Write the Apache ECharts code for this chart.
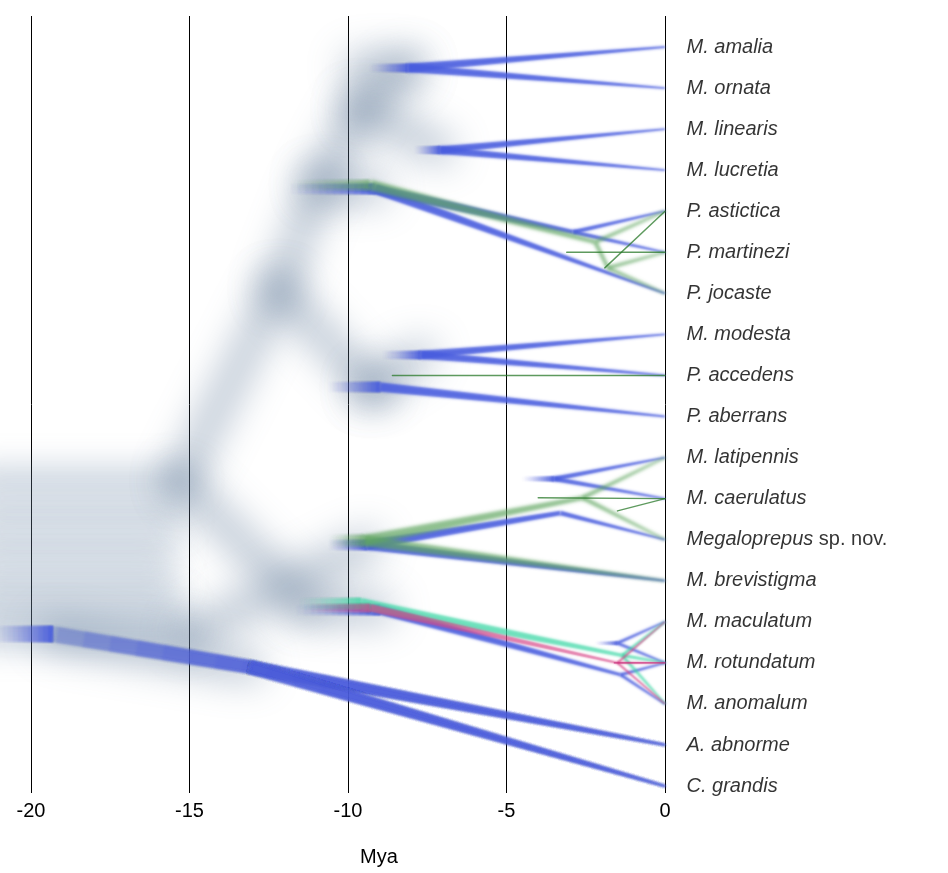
<!DOCTYPE html>
<html>
<head>
<meta charset="utf-8">
<script src="https://cdn.jsdelivr.net/npm/echarts@6/dist/echarts.min.js"></script>
<style>
html, body { margin: 0; padding: 0; background: #fff; }
#main { width: 948px; height: 873px; }
</style>
</head>
<body>
<div id="main"></div>
<script>
// tips, top to bottom (all tips sit at age 0)
var taxa = ['M. amalia', 'M. ornata', 'M. linearis', 'M. lucretia', 'P. astictica', 'P. martinezi',
    'P. jocaste', 'M. modesta', 'P. accedens', 'P. aberrans', 'M. latipennis', 'M. caerulatus',
    'Megaloprepus sp. nov.', 'M. brevistigma', 'M. maculatum', 'M. rotundatum', 'M. anomalum',
    'A. abnorme', 'C. grandis'];
var ageTicks = [-20, -15, -10, -5, 0];

// consensus tree (blue)  [node, age (Mya), vertical position in tip units]
var blueNodes = [['A', -8.1, 0.51], ['B', -7.1, 2.51], ['D', -9.15, 3.46], ['C', -2.9, 4.51],
    ['E', -7.7, 7.5], ['F', -9.0, 8.28], ['G', -3.5, 10.52], ['I', -9.4, 12.13], ['H', -3.3, 11.35],
    ['K', -9.0, 13.71], ['J', -1.5, 14.52], ['M', -1.4, 15.29], ['R', -19.3, 14.3], ['O', -13.1, 15.1]];
// [parent, child]  child = node name or tip index
var blueEdges = [['A', 0], ['A', 1], ['B', 2], ['B', 3], ['D', 'C'], ['D', 6], ['C', 4], ['C', 5],
    ['E', 7], ['E', 8], ['F', 9], ['G', 10], ['G', 11], ['I', 'H'], ['I', 13], ['H', 12],
    ['K', 'M'], ['J', 14], ['J', 15], ['M', 15], ['M', 16], ['R', 'O'], ['O', 17], ['O', 18]];
// faded stems: [node, age where the stem fades out]
var blueStems = [['A', -9.3], ['B', -7.9], ['D', -11.8], ['E', -8.9], ['F', -10.6], ['G', -4.5],
    ['I', -10.6], ['K', -11.6], ['J', -2.2], ['R', -21.2]];

// alternative topologies
var greenNodes = [['Dg', -9.3, 3.36], ['Cg', -2.2, 4.75], ['Ng', -1.8, 5.38], ['Ig', -9.5, 12.02], ['Gg', -2.6, 10.98]];
var greenEdges = [['Dg', 'Cg'], ['Cg', 4], ['Cg', 'Ng'], ['Ng', 5], ['Ng', 6], ['Ig', 'Gg'], ['Gg', 10], ['Gg', 12], ['Ig', 13]];
var greenStems = [['Dg', -11.8], ['Ig', -10.6]];
var tealNodes = [['Kt', -9.6, 13.55], ['Jt', -1.35, 14.82]];
var tealEdges = [['Kt', 'Jt'], ['Jt', 14], ['Jt', 15], ['Jt', 16]];
var tealStems = [['Kt', -11.5]];
var pinkNodes = [['Kp', -9.3, 13.66], ['Jp', -1.5, 15.0]];
var pinkEdges = [['Kp', 'Jp'], ['Jp', 14], ['Jp', 15], ['Jp', 16]];
var pinkStems = [['Kp', -11.3]];

// single thin lines: [age, position, tip]
var thinGreen = [[-3.1, 5.0, 5], [-1.9, 5.38, 4], [-4.0, 10.98, 11], [-1.5, 11.3, 11], [-8.6, 8.0, 8]];
var thinPink = [[-1.6, 15.0, 15]];

// uncertainty cloud (grey)
var greyNodes = [['gP', -15.3, 10.57], ['gQ', -12.2, 5.9], ['gS', -10.9, 3.35], ['gT', -9.6, 1.5],
    ['gF', -9.3, 8.28], ['gK', -11.3, 13.64], ['gL', -15.0, 14.3], ['gA', -9.7, 0.51]];
var greyEdges = [['gP', 'gQ'], ['gQ', 'gS'], ['gS', 'gT'], ['gT', 'A'], ['gA', 'A'], ['gT', 'B'], ['gS', 'D'],
    ['gQ', 'gF'], ['gF', 'E'], ['gF', 'F'], ['gP', 'gK'], ['gK', 'K'], ['gL', 'I'], ['R', 'O']];
var rootRows = [10.57, 11.4, 12.2, 13.0, 13.7, 14.3];
var rootRowEnds = [-15.3, -15.6, -15.8, -15.8, -15.6, -15.0];
var rootStart = -21.5;

var FONT = '"Liberation Sans", Arial, sans-serif';
var OFF = 3000;
var STEPS = 12;
var SLATE = [125, 145, 180];

var nodeMap = {};
[blueNodes, greenNodes, tealNodes, pinkNodes, greyNodes].forEach(function (list) {
    list.forEach(function (n) { nodeMap[n[0]] = [n[1], n[2]]; });
});
function pos(ref) {
    return typeof ref === 'number' ? [0, ref] : nodeMap[ref];
}
function edgeSegs(edges) {
    return edges.map(function (e) {
        var a = pos(e[0]), b = pos(e[1]);
        return [a[0], a[1], b[0], b[1]];
    });
}
function stemSegs(stems) {
    return stems.map(function (s) {
        var b = pos(s[0]);
        return [s[1], b[1], b[0], b[1]];
    });
}
var greySegs = edgeSegs(greyEdges);
var rootSegs = rootRows.map(function (y, i) { return [rootStart, y, rootRowEnds[i], y]; });
var thinGreenSegs = thinGreen.map(function (d) { return [d[0], d[1], 0, d[2]]; });
var thinPinkSegs = thinPink.map(function (d) { return [d[0], d[1], 0, d[2]]; });

function widthAt(t) { return Math.min(16, 1.8 + 0.85 * (-t)); }
function rgba(c, a) { return 'rgba(' + c.join(',') + ',' + a.toFixed(3) + ')'; }
function taper(p0, p1, w0, w1) {
    var dx = p1[0] - p0[0], dy = p1[1] - p0[1];
    var len = Math.sqrt(dx * dx + dy * dy) || 1;
    var nx = -dy / len, ny = dx / len;
    return [[p0[0] + nx * w0 / 2 + OFF, p0[1] + ny * w0 / 2], [p1[0] + nx * w1 / 2 + OFF, p1[1] + ny * w1 / 2],
        [p1[0] - nx * w1 / 2 + OFF, p1[1] - ny * w1 / 2], [p0[0] - nx * w0 / 2 + OFF, p0[1] - ny * w0 / 2]];
}

// tapered branch, older end wider. The polygon sits off canvas and only its
// (translucent, slightly soft) shadow is seen. Colour changes along a branch are
// built by stacking copies that all end at the young end.
function bandLayer(segs, col, alpha, scale, blur, z, stem) {
    return {
        type: 'custom', z: z, silent: true, clip: false, data: segs,
        renderItem: function (params, api) {
            var s = segs[params.dataIndex];
            var t0 = s[0], t1 = s[2];
            var p0 = api.coord([t0, s[1]]), p1 = api.coord([t1, s[3]]);
            var kids = [];
            var beta = 1 - Math.pow(1 - alpha, 1 / STEPS);
            function piece(u, c, op) {
                var a = [p0[0] + (p1[0] - p0[0]) * u, p0[1] + (p1[1] - p0[1]) * u];
                var tu = t0 + (t1 - t0) * u;
                var wa = (stem ? widthAt(t1) : widthAt(tu)) * scale;
                kids.push({
                    type: 'polygon',
                    shape: { points: taper(a, p1, wa, widthAt(t1) * scale) },
                    style: { fill: '#000', shadowBlur: blur, shadowColor: rgba(c, op), shadowOffsetX: -OFF }
                });
            }
            if (stem) {
                // cumulative opacity rises evenly from the left end to the node
                var prev = 0;
                for (var k = 0; k < STEPS; k++) {
                    var target = alpha * Math.pow((k + 1) / STEPS, 1.3);
                    piece(k / STEPS, col, 1 - (1 - target) / (1 - prev));
                    prev = target;
                }
            } else if (t0 >= -10) {
                piece(0, col, alpha);
            } else {
                piece(0, SLATE, alpha * 0.45);
                for (var j = 0; j < STEPS; j++) {
                    var tau = -20 + 10 * j / STEPS;
                    if (tau >= t1) break;
                    piece(Math.max(0, (tau - t0) / (t1 - t0)), col, beta);
                }
            }
            return { type: 'group', children: kids };
        }
    };
}

// blurred wide strokes, drawn the same way
function hazeLayer(segs, color, width, blur, z) {
    return {
        type: 'custom', z: z, silent: true, clip: false, data: segs,
        renderItem: function (params, api) {
            var s = segs[params.dataIndex];
            var p0 = api.coord([s[0], s[1]]);
            var p1 = api.coord([s[2], s[3]]);
            return {
                type: 'line',
                shape: { x1: p0[0] + OFF, y1: p0[1], x2: p1[0] + OFF, y2: p1[1] },
                style: { stroke: '#000', lineWidth: width, lineCap: 'round',
                    shadowBlur: blur, shadowColor: color, shadowOffsetX: -OFF }
            };
        }
    };
}

var BLUE = [72, 92, 222], GREEN = [95, 165, 95], TEAL = [60, 215, 165], PINK = [215, 70, 135];

var chart = echarts.init(document.getElementById('main'));
var option = {
    backgroundColor: '#fff',
    animation: false,
    grid: { left: 31, right: 283, top: 16, bottom: 80 },
    xAxis: {
        type: 'value', min: ageTicks[0], max: ageTicks[ageTicks.length - 1], interval: 5,
        axisLine: { show: false }, axisTick: { show: false },
        splitLine: { show: true, lineStyle: { color: '#000', width: 1 } },
        axisLabel: { fontSize: 20, color: '#000', fontFamily: FONT, margin: 8 },
        name: 'Mya', nameLocation: 'middle', nameGap: 54,
        nameTextStyle: { fontSize: 20, color: '#000', fontFamily: FONT, padding: [0, 0, 0, 62] }
    },
    yAxis: { type: 'value', inverse: true, min: -0.755, max: 18.17, show: false },
    series: [
        hazeLayer(rootSegs, 'rgba(120,145,172,0.36)', 30, 30, 1),
        hazeLayer(greySegs, 'rgba(100,125,155,0.44)', 30, 36, 2),
        bandLayer(stemSegs(blueStems), BLUE, 0.9, 1, 2, 3, true),
        bandLayer(edgeSegs(blueEdges), BLUE, 0.9, 1, 2.5, 4, false),
        bandLayer(stemSegs(greenStems), GREEN, 0.7, 1.1, 3, 5, true),
        bandLayer(edgeSegs(greenEdges), GREEN, 0.7, 1.1, 3.5, 5, false),
        bandLayer(stemSegs(tealStems), TEAL, 0.75, 1.1, 2, 5, true),
        bandLayer(edgeSegs(tealEdges), TEAL, 0.75, 1.1, 2.5, 5, false),
        bandLayer(stemSegs(pinkStems), PINK, 0.7, 0.8, 2, 6, true),
        bandLayer(edgeSegs(pinkEdges), PINK, 0.7, 0.8, 2, 6, false),
        hazeLayer(thinGreenSegs, 'rgba(40,120,40,0.75)', 1.4, 0.5, 7),
        hazeLayer(thinPinkSegs, 'rgba(200,40,120,0.8)', 1.4, 0.5, 7),
        {
            type: 'scatter', z: 10, symbolSize: 1, silent: true,
            itemStyle: { color: 'rgba(0,0,0,0)' },
            data: taxa.map(function (n, i) { return [0, i]; }),
            label: {
                show: true, position: 'right', distance: 21,
                fontSize: 20, fontFamily: FONT, color: '#000',
                formatter: function (p) {
                    var n = taxa[p.dataIndex];
                    var m = n.match(/^(Megaloprepus) (.*)$/);
                    return m ? '{i|' + m[1] + '} {n|' + m[2] + '}' : '{i|' + n + '}';
                },
                rich: {
                    i: { fontStyle: 'italic', fontSize: 20, fontFamily: FONT, color: '#000' },
                    n: { fontStyle: 'normal', fontSize: 20, fontFamily: FONT, color: '#000' }
                }
            }
        }
    ]
};
chart.setOption(option);
</script>
</body>
</html>
